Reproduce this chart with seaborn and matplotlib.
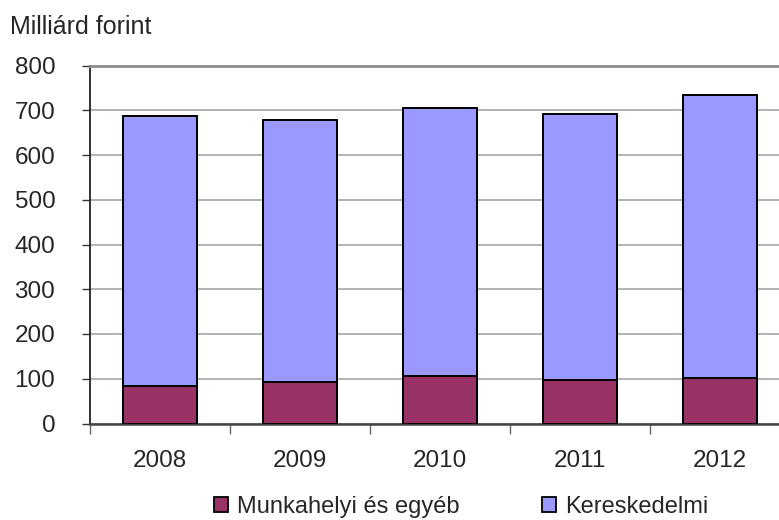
import matplotlib
matplotlib.use("Agg")
import matplotlib.pyplot as plt
import seaborn as sns
import pandas as pd
from matplotlib.patches import Patch

years = ["2008", "2009", "2010", "2011", "2012"]
munkahelyi = [84, 92, 106, 97, 101]
kereskedelmi = [604, 586, 599, 595, 632]
series_names = ["Munkahelyi és egyéb", "Kereskedelmi"]
yticks = [0, 100, 200, 300, 400, 500, 600, 700, 800]

sns.set_style("white")
plt.rcParams['font.family'] = ['Liberation Sans', 'DejaVu Sans']

df = pd.DataFrame({"year": years, "bottom": munkahelyi, "top": kereskedelmi})
df["total"] = df["bottom"] + df["top"]

c_bottom = "#993366"
c_top = "#9999FF"

fig = plt.figure(figsize=(7.79, 5.20), dpi=100)
ax = fig.add_axes([90/779, 1-423.5/520, (779-90)/779, (423.5-65.5)/520])

sns.barplot(data=df, x="year", y="total", color=c_top, width=0.53,
            edgecolor="black", linewidth=1.4, saturation=1, ax=ax, zorder=3)
sns.barplot(data=df, x="year", y="bottom", color=c_bottom, width=0.53,
            edgecolor="black", linewidth=1.4, saturation=1, ax=ax, zorder=4)

ax.set_ylim(0, 800)
ax.set_xlim(-0.5, 4.42)
ax.set_yticks(yticks)
ax.set_yticklabels([str(t) for t in yticks], fontsize=17.5)
ax.tick_params(axis='y', length=6, width=1, color='#333333', direction='out', left=True, pad=19)
ax.set_xticks(range(len(years)))
ax.set_xticklabels(years, fontsize=17.5)
ax.tick_params(axis='x', which='major', length=0, pad=19)
ax.set_xticks([i + 0.5 for i in range(-1, len(years) - 1)], minor=True)
ax.tick_params(axis='x', which='minor', length=7, width=1, color='#666666', direction='out', bottom=True)

ax.yaxis.grid(True, color="#a6a6a6", linewidth=1.2, zorder=0)
ax.set_axisbelow(True)
ax.set_xlabel("")
ax.set_ylabel("")

ax.spines["right"].set_visible(False)
ax.spines["top"].set_color("#8c8c8c")
ax.spines["top"].set_linewidth(2)
ax.spines["left"].set_color("#222222")
ax.spines["left"].set_linewidth(1.3)
ax.spines["bottom"].set_color("#444444")
ax.spines["bottom"].set_linewidth(1.8)

fig.text(10/779, 1-27/520, "Milliárd forint", fontsize=18, va="center", ha="left")

handles = [Patch(facecolor=c_bottom, edgecolor="black", linewidth=1.3, label=series_names[0]),
           Patch(facecolor=c_top, edgecolor="black", linewidth=1.3, label=series_names[1])]
fig.legend(handles=handles, loc="center", bbox_to_anchor=(461/779, 1-507/520), ncol=2,
           frameon=False, fontsize=17, handlelength=0.6, handleheight=0.6,
           handletextpad=0.38, columnspacing=3.5, borderpad=0)

fig.savefig("out.png", dpi=100)
